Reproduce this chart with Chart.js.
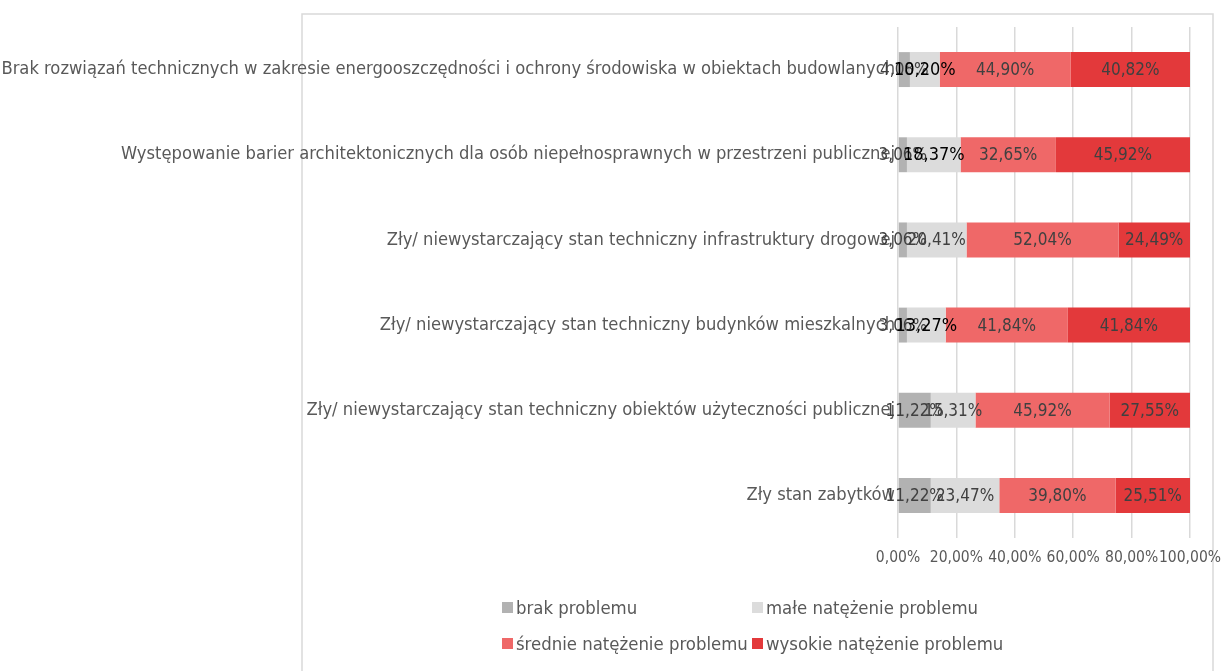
<!DOCTYPE html>
<html>
<head>
<meta charset="utf-8">
<script src="https://cdn.jsdelivr.net/npm/chart.js@4/dist/chart.umd.min.js"></script>
<style>
  html, body { margin: 0; padding: 0; background: #fff; }
  #wrap { width: 1225px; height: 671px; position: relative; }
</style>
</head>
<body>
<div id="wrap"><canvas id="chart" width="1225" height="671"></canvas></div>
<script>
// Categories and shares (in %) for each answer level
const categories = [
    'Brak rozwiązań technicznych w zakresie energooszczędności i ochrony środowiska w obiektach budowlanych',
    'Występowanie barier architektonicznych dla osób niepełnosprawnych w przestrzeni publicznej',
    'Zły/ niewystarczający stan techniczny infrastruktury drogowej',
    'Zły/ niewystarczający stan techniczny budynków mieszkalnych',
    'Zły/ niewystarczający stan techniczny obiektów użyteczności publicznej',
    'Zły stan zabytków'
];
const seriesNames = ['brak problemu', 'małe natężenie problemu', 'średnie natężenie problemu', 'wysokie natężenie problemu'];
const brak = [4.08, 3.06, 3.06, 3.06, 11.22, 11.22];
const male = [10.20, 18.37, 20.41, 13.27, 15.31, 23.47];
const srednie = [44.90, 32.65, 52.04, 41.84, 45.92, 39.80];
const wysokie = [40.82, 45.92, 24.49, 41.84, 27.55, 25.51];
const xTicks = [0, 20, 40, 60, 80, 100];

const seriesColors = ['#B2B2B2', '#DCDCDC', '#EF6868', '#E3393B'];
const labelFont = '"Liberation Sans Narrow", "DejaVu Sans Condensed", sans-serif';

function pct(v) {
    return v.toFixed(2).replace('.', ',') + '%';
}

// Value labels centred in each segment
const segmentLabels = {
    id: 'segmentLabels',
    afterDatasetsDraw(chart) {
        const ctx = chart.ctx;
        ctx.save();
        ctx.textAlign = 'center';
        ctx.textBaseline = 'middle';
        chart.data.datasets.forEach((ds, di) => {
            const meta = chart.getDatasetMeta(di);
            meta.data.forEach((bar, i) => {
                const big = di === 1 && [0, 1, 3].includes(i);
                ctx.font = big ? '18px ' + labelFont : '17px ' + labelFont;
                ctx.fillStyle = big ? '#000' : '#404040';
                ctx.fillText(pct(ds.data[i]), (bar.x + bar.base) / 2, bar.y + 1);
            });
        });
        ctx.restore();
    }
};

// Outer frame and two-column legend
const frameAndLegend = {
    id: 'frameAndLegend',
    beforeDraw(chart) {
        const ctx = chart.ctx;
        ctx.save();
        ctx.strokeStyle = '#D9D9D9';
        ctx.lineWidth = 1.5;
        ctx.beginPath();
        ctx.moveTo(302, 680);
        ctx.lineTo(302, 14);
        ctx.lineTo(1213, 14);
        ctx.lineTo(1213, 680);
        ctx.stroke();
        ctx.restore();
    },
    afterDraw(chart) {
        const ctx = chart.ctx;
        const cols = [502, 752];
        const rows = [608, 644];
        ctx.save();
        ctx.font = '18.4px ' + labelFont;
        ctx.textBaseline = 'middle';
        chart.data.datasets.forEach((ds, i) => {
            const x = cols[i % 2];
            const y = rows[Math.floor(i / 2)];
            ctx.fillStyle = ds.backgroundColor;
            ctx.fillRect(x, y - 6, 11, 11);
            ctx.fillStyle = '#595959';
            ctx.fillText(ds.label, x + 14, y + 1);
        });
        ctx.restore();
    }
};

const seriesData = [brak, male, srednie, wysokie];

new Chart(document.getElementById('chart'), {
    type: 'bar',
    data: {
        labels: categories,
        datasets: seriesData.map((d, i) => ({
            label: seriesNames[i],
            data: d,
            backgroundColor: seriesColors[i],
            borderWidth: 0,
            categoryPercentage: 1,
            barPercentage: 0.41
        }))
    },
    options: {
        indexAxis: 'y',
        responsive: false,
        animation: false,
        layout: { padding: { top: 27, right: 35, bottom: 103, left: 0 } },
        plugins: {
            legend: { display: false },
            tooltip: { enabled: false }
        },
        scales: {
            x: {
                stacked: true,
                min: 0,
                max: 100,
                afterBuildTicks(scale) {
                    scale.ticks = xTicks.map(v => ({ value: v }));
                },
                afterFit(scale) {
                    scale.height = 30;
                    scale.paddingLeft = 0;
                    scale.paddingRight = 0;
                },
                border: { display: false },
                grid: { color: '#D9D9D9', lineWidth: 1.5, drawTicks: false },
                ticks: {
                    padding: 11,
                    color: '#595959',
                    font: { family: labelFont, size: 15.5 },
                    maxRotation: 0,
                    autoSkip: false,
                    callback: v => pct(v)
                }
            },
            y: {
                stacked: true,
                afterFit(scale) {
                    scale.width = 898;
                    scale.paddingTop = 0;
                    scale.paddingBottom = 0;
                },
                border: { display: false },
                grid: { display: false, drawTicks: false },
                ticks: {
                    padding: 3,
                    color: '#595959',
                    font: { family: labelFont, size: 18.2 },
                    autoSkip: false
                }
            }
        }
    },
    plugins: [frameAndLegend, segmentLabels]
});
</script>
</body>
</html>
